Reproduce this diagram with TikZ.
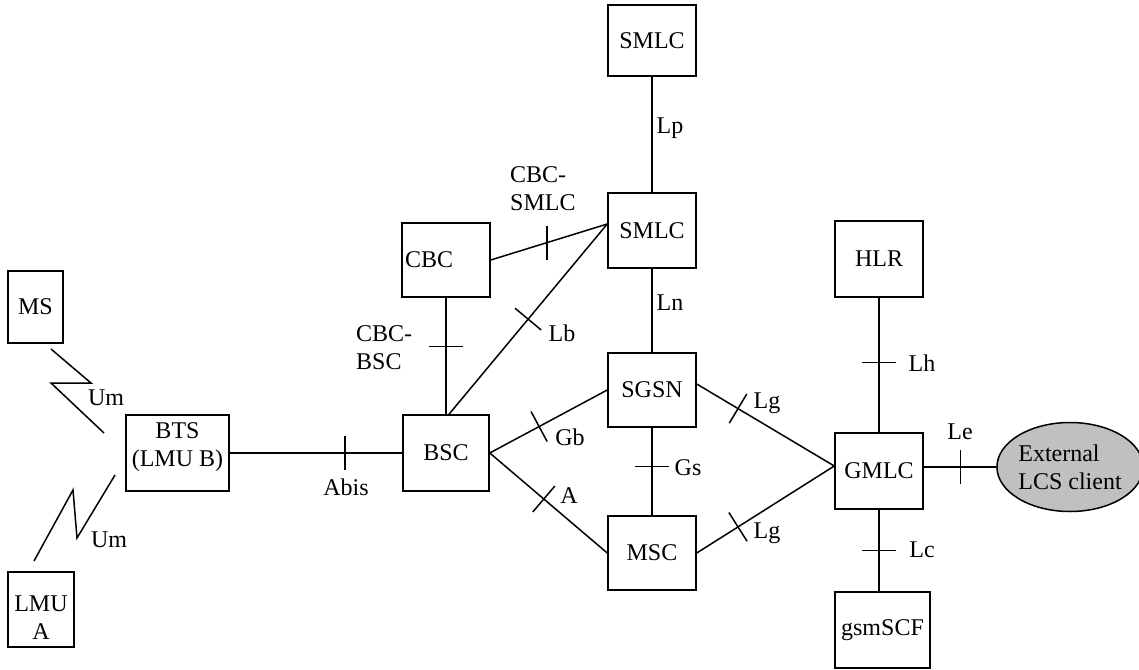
\documentclass[tikz,border=0pt]{standalone}
\usepackage{fontspec}
\setmainfont{Liberation Serif}
\usetikzlibrary{shapes.geometric}
\definecolor{extgray}{RGB}{192,192,192}
\begin{document}
\begin{tikzpicture}[x=1pt,y=-1pt,
  every node/.style={font=\fontsize{24}{28}\selectfont},
  box/.style={draw, line width=1.5pt, inner sep=0pt, minimum width=88pt, minimum height=75pt, align=center},
  link/.style={line width=1.5pt},
  tickmark/.style={inner sep=0pt, outer sep=0pt, minimum width=0pt, minimum height=34pt},
  lbl/.style={inner sep=0pt, align=center}]
\useasboundingbox (0,0) rectangle (1139,669);

% network elements
\node[box, minimum height=71pt] (smlcTop) at (652,40.5) {SMLC};
\node[box] (smlc) at (652,230.5) {SMLC};
\node[box, minimum height=74pt, text width=82pt, align=left] (cbc) at (446,260) {CBC};
\node[box, minimum height=74pt] (sgsn) at (652,390) {SGSN};
\node[box, minimum width=86pt, minimum height=76pt] (bsc) at (446,453) {BSC};
\node[box, minimum height=74pt] (msc) at (652,553) {MSC};
\node[box, minimum height=76pt] (hlr) at (879,259) {HLR};
\node[box, minimum height=76pt] (gmlc) at (879,471) {GMLC};
\node[box, minimum width=95pt, minimum height=76pt] (gsmscf) at (882.5,630) {gsmSCF};
\node[box, minimum width=103pt, minimum height=76pt] (bts) at (177.5,453) {};
\node[lbl] (btsText) at (177.5,447) {BTS\\(LMU B)};
\node[box, minimum width=55pt, minimum height=72pt] (ms) at (35.5,307) {MS};
\node[box, minimum width=66pt, minimum height=75pt] (lmua) at (41,609.5) {};
\node[lbl] (lmuaText) at (41,618) {LMU\\A};
\node[draw, ellipse, fill=extgray, line width=1.5pt, minimum width=138pt, minimum height=89pt,
      inner sep=0pt, align=left] (ext) at (1070,467) {External\\LCS client};

% interfaces
\draw[link] (smlcTop) -- (smlc);
\draw[link] (smlc) -- (sgsn);
\draw[link] (cbc.east) -- node[tickmark, pos=.483, name=tCS]{} ([yshift=6.5pt]smlc.west);
\draw[link] ([xshift=3pt]bsc.north) -- node[tickmark, sloped, pos=.5, name=tLb]{} ([yshift=6.5pt]smlc.west);
\draw[link] (cbc) -- node[tickmark, sloped, pos=.42, name=tCB]{} (bsc);
\draw[link] (bts) -- node[tickmark, pos=.667, name=tAbis]{} (bsc);
\draw[link] (bsc.east) -- node[tickmark, sloped, pos=.42, name=tGb]{} (sgsn.west);
\draw[link] (bsc.east) -- node[tickmark, sloped, pos=.46, name=tA]{} (msc.west);
\draw[link] (sgsn) -- node[tickmark, sloped, pos=.44, name=tGs]{} (msc);
\coordinate (gmlcIn) at ([yshift=5pt]gmlc.west);
\draw[link] ([yshift=6pt]sgsn.east) -- node[tickmark, sloped, pos=.3, name=tLgA]{} (gmlcIn);
\draw[link] (msc.east) -- node[tickmark, sloped, pos=.3, name=tLgB]{} (gmlcIn);
\draw[link] (hlr) -- node[tickmark, sloped, pos=.48, name=tLh]{} (gmlc);
\draw[link] (gmlc.south) -- node[tickmark, sloped, pos=.5, name=tLc]{} (gmlc.south |- gsmscf.north);
\draw[link] ([yshift=4pt]gmlc.east) -- node[tickmark, pos=.51, name=tLe]{} (ext);

% tick marks across the interfaces
\foreach \t in {tCS,tLb,tCB,tAbis,tGb,tA,tGs,tLgA,tLgB,tLh,tLc,tLe}
  \draw[link] (\t.north) -- (\t.south);

% radio links
\coordinate (za1) at (51,349);
\coordinate (za2) at (91,383);
\coordinate (za3) at (51,383);
\coordinate (za4) at (104,433);
\draw[link] (za1) -- (za2) -- (za3) -- (za4);
\coordinate (zb1) at (34,561);
\coordinate (zb2) at (73,490);
\coordinate (zb3) at (77,538);
\coordinate (zb4) at (115,475);
\draw[link] (zb1) -- (zb2) -- (zb3) -- (zb4);

% interface names
\node[lbl] (lLp) at (670,128) {Lp};
\node[lbl] (lLn) at (670,303) {Ln};
\node[lbl, anchor=west, align=left] (lCS) at (510,189) {CBC-\\SMLC};
\node[lbl, anchor=west, align=left] (lCB) at (356,348) {CBC-\\BSC};
\node[lbl] (lLb) at (562,333) {Lb};
\node[lbl] (lGb) at (570,437) {Gb};
\node[lbl] (lA) at (569,496) {A};
\node[lbl] (lGs) at (688,468) {Gs};
\node[lbl] (lLgA) at (767,403) {Lg};
\node[lbl] (lLgB) at (767,533) {Lg};
\node[lbl] (lLh) at (922,363) {Lh};
\node[lbl] (lLc) at (922,550) {Lc};
\node[lbl] (lLe) at (960,432) {Le};
\node[lbl] (lAbis) at (346,487) {Abis};
\node[lbl] (lUmA) at (106,398) {Um};
\node[lbl] (lUmB) at (109,540) {Um};
\end{tikzpicture}
\end{document}
